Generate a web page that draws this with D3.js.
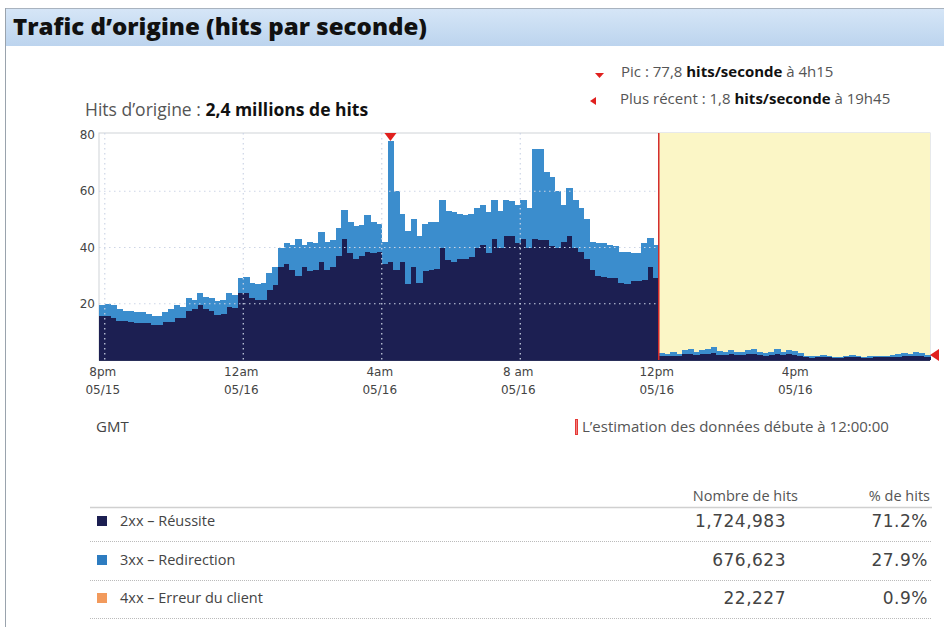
<!DOCTYPE html>
<html><head><meta charset="utf-8">
<script src="https://cdn.jsdelivr.net/npm/d3@7"></script>
<style>
html,body{margin:0;padding:0;background:#fff;}
svg{display:block;}
</style></head>
<body>
<svg id="c" width="944" height="627"></svg>
<script>
// ---- data ----
const binStart = "2013-05-15T19:50:00Z";
const binMinutes = 10;
const s2xx = [15.5,15.5,15,14,14,13.5,13,13,13,12.5,12.5,13.5,13.5,15,15,17.5,18,19.5,18,17.5,16,16.5,19,18.5,24,
  24,22,21.5,21.5,25,26.5,33,34,32,30,33,31.5,32,35,32,33,37,43,38,36,37,38.5,38,38.5,
  34,35,32,35,27,33,27.5,31.5,32,32.5,40,35.5,35,36,36,36.5,40,41,38,43,40,44,44,41.5,43,
  40,43,42.5,42.5,40.5,40,42,44,40,38.5,36,32,30,29.5,29,29,27.5,27,28,28,28.5,33,29,
  1.5,1.3,1.6,1.3,2.0,2.2,1.8,2.0,2.3,2.5,1.9,1.8,2.1,1.7,1.8,2.0,2.2,1.8,1.5,1.8,2.3,1.8,2.0,1.9,1.5,
  0.9,0.8,0.9,1.1,0.9,0.7,0.7,0.9,1.1,0.9,0.7,0.8,0.9,1.0,0.9,1.1,1.2,1.5,1.3,1.6,1.5,1.1];
const s3xx = [4,4.5,4.5,4,3.5,4,4,4,3.5,3,3,3.5,4.5,4.5,4,4.5,3.5,4.5,4.5,4.5,5,5,5,4.5,5,
  5.5,5.5,5.5,6,6,6.5,7,7.5,9,13,8,10.5,9.5,10.5,10,9.5,10,10.5,11,11.5,11,13,11,10,
  8,42.8,28,17,19,17,16.5,17,17,16.5,17,17.5,17.5,16,15.5,15.5,14,14,14.5,14,13,13,12.5,13.5,14,
  14,32,32.5,24.5,24.5,20,13,17,17,15.5,14,10,11.5,12,12,11.5,11,11.5,10,10,13,10.5,12,
  1.0,0.9,1.2,0.9,1.5,1.6,1.2,1.5,1.7,2.0,1.3,1.2,1.4,1.1,1.2,1.5,1.6,1.2,1.0,1.2,1.7,1.2,1.5,1.3,1.0,
  0.6,0.5,0.6,0.7,0.6,0.5,0.5,0.6,0.7,0.6,0.5,0.6,0.6,0.6,0.6,0.7,0.8,1.0,0.9,1.2,1.0,0.7];
const yTicks = [20,40,60,80];
const xTickTimes = ["2013-05-15T20:00:00Z","2013-05-16T00:00:00Z","2013-05-16T04:00:00Z","2013-05-16T08:00:00Z","2013-05-16T12:00:00Z","2013-05-16T16:00:00Z"];
const xTickHours = ["8pm","12am","4am","8 am","12pm","4pm"];
const xTickDates = ["05/15","05/16","05/16","05/16","05/16","05/16"];
const estimateStart = "2013-05-16T12:00:00Z";
const peakTime = "2013-05-16T04:15:00Z", peakValue = 77.8;
const latestValue = 1.8;
const legendNames = ["2xx – Réussite","3xx – Redirection","4xx – Erreur du client"];
const legendHits = ["1,724,983","676,623","22,227"];
const legendPct = ["71.2%","27.9%","0.9%"];
const legendColors = ["#1c1f52","#2d7cc0","#f29a5c"];
const seriesColors = {s2xx:"#1c1f52", s3xx:"#3b8dcd"};

// ---- drawing ----
const svg = d3.select("#c");
const defs = svg.append("defs");
const g1 = defs.append("linearGradient").attr("id","hdr").attr("x1",0).attr("y1",0).attr("x2",0).attr("y2",1);
g1.append("stop").attr("offset","0%").attr("stop-color","#d6e6f7");
g1.append("stop").attr("offset","100%").attr("stop-color","#bcd4ee");

// frame & header
svg.append("rect").attr("x",5).attr("y",8).attr("width",939).attr("height",38).attr("fill","url(#hdr)");
svg.append("line").attr("x1",5).attr("x2",944).attr("y1",8.5).attr("y2",8.5).attr("stroke","#a9b3bf");
svg.append("line").attr("x1",5.5).attr("x2",5.5).attr("y1",8).attr("y2",627).attr("stroke","#9aa3ad");
svg.append("text").attr("x",13).attr("y",35).attr("font-family","Open Sans").attr("font-weight",800)
  .attr("font-size",22).attr("fill","#111").attr("textLength",414).attr("lengthAdjust","spacingAndGlyphs")
  .text("Trafic d’origine (hits par seconde)");

const L=99, R=930, T=133, B=360;
const x = d3.scaleTime().domain([new Date("2013-05-15T19:50:00Z"), new Date("2013-05-16T19:50:00Z")]).range([L,R]);
const y = d3.scaleLinear().domain([0,80]).range([B,135]);

const t0 = new Date(binStart).getTime();
const data = s2xx.map((v,i)=>({t:new Date(t0+i*binMinutes*60000), s2xx:v, s3xx:s3xx[i]}));
const stack = d3.stack().keys(["s2xx","s3xx"])(data);

// plot bg
svg.append("rect").attr("x",L).attr("y",T).attr("width",R-L).attr("height",B-T).attr("fill","#fff").attr("stroke","#cfd3d8");
svg.append("rect").attr("x",x(new Date(estimateStart))).attr("y",T).attr("width",R-x(new Date(estimateStart))).attr("height",B-T).attr("fill","#fbf6c6");

const bars = svg.append("g").attr("shape-rendering","crispEdges");
stack.forEach(layer=>{
  bars.append("g").attr("fill",seriesColors[layer.key]).selectAll("rect").data(layer).join("rect")
    .attr("x",d=>x(d.data.t))
    .attr("width",d=>x(new Date(d.data.t.getTime()+binMinutes*60000))-x(d.data.t)+0.6)
    .attr("y",d=>y(d[1])).attr("height",d=>y(d[0])-y(d[1]));
});

// gridlines
const grid = svg.append("g").attr("stroke","#cdd5e6").attr("stroke-width",1.2).attr("stroke-dasharray","1.5,3.5");
grid.selectAll("line.h").data([20,40,60]).join("line").attr("x1",L).attr("x2",x(new Date(estimateStart)))
  .attr("y1",d=>y(d)).attr("y2",d=>y(d));
grid.selectAll("line.v").data(xTickTimes.slice(0,4)).join("line").attr("x1",d=>x(new Date(d))).attr("x2",d=>x(new Date(d)))
  .attr("y1",T).attr("y2",B);

// estimate line
svg.append("line").attr("x1",x(new Date(estimateStart))).attr("x2",x(new Date(estimateStart))).attr("y1",T).attr("y2",B)
  .attr("stroke","#d42a2a").attr("stroke-width",1.5);
svg.append("line").attr("x1",L).attr("x2",R).attr("y1",B+0.5).attr("y2",B+0.5).attr("stroke","#2a2f5a");

// y labels
svg.append("g").selectAll("text").data(yTicks).join("text").attr("x",95).attr("y",d=>y(d)+4)
  .attr("text-anchor","end").attr("font-family","DejaVu Sans").attr("font-size",12).attr("fill","#444").text(d=>d);
// x labels
const xl = svg.append("g").attr("font-family","DejaVu Sans").attr("font-size",12).attr("fill","#444").attr("text-anchor","middle");
xTickTimes.forEach((t,i)=>{
  xl.append("text").attr("x",x(new Date(t))-2).attr("y",376).text(xTickHours[i]);
  xl.append("text").attr("x",x(new Date(t))-2).attr("y",394).text(xTickDates[i]);
});

// markers
const px = x(new Date(peakTime));
svg.append("path").attr("d",`M${px-6},${T}L${px+6},${T}L${px},${T+8}Z`).attr("fill","#e0201e");
const ly = y(latestValue);
svg.append("path").attr("d",`M${R},${ly}L${R+9},${ly-6}L${R+9},${ly+6}Z`).attr("fill","#e0201e");

// annotations
function rich(xp, yp, parts, size){
  const t = svg.append("text").attr("x",xp).attr("y",yp).attr("font-family","Open Sans").attr("font-size",size);
  parts.forEach(p=>t.append("tspan").attr("font-weight",p[1]?700:400).attr("fill",p[1]?"#111":"#555").text(p[0]));
}
svg.append("path").attr("d","M595,73L604,73L599.5,78Z").attr("fill","#e0201e");
rich(621,77,[["Pic : 77,8 ",0],["hits/seconde",1],[" à 4h15",0]],15);
svg.append("path").attr("d","M590,101L596,97L596,105Z").attr("fill","#e0201e");
rich(620,104,[["Plus récent : 1,8 ",0],["hits/seconde",1],[" à 19h45",0]],15);
rich(85,116,[["Hits d’origine : ",0],["2,4 millions de hits",1]],17.5);

svg.append("text").attr("x",96).attr("y",432).attr("font-family","Open Sans").attr("font-size",15).attr("fill","#444").text("GMT");
svg.append("rect").attr("x",575.5).attr("y",419.5).attr("width",2).attr("height",15).attr("fill","#f08080").attr("stroke","#e53935");
svg.append("text").attr("x",582).attr("y",432).attr("font-family","Open Sans").attr("font-size",15).attr("fill","#555")
  .text("L’estimation des données débute à 12:00:00");

// table
const tb = svg.append("g");
tb.append("text").attr("x",798).attr("y",501).attr("text-anchor","end").attr("font-family","Open Sans").attr("font-size",14.5).attr("fill","#555").text("Nombre de hits");
tb.append("text").attr("x",930).attr("y",501).attr("text-anchor","end").attr("font-family","Open Sans").attr("font-size",14.5).attr("fill","#555").text("% de hits");
tb.append("line").attr("x1",90).attr("x2",932).attr("y1",507.5).attr("y2",507.5).attr("stroke","#d0d0d0").attr("stroke-width",1.5);
const rowY = [521,560,598];
legendNames.forEach((n,i)=>{
  const cy = rowY[i];
  tb.append("rect").attr("x",97).attr("y",cy-5).attr("width",10).attr("height",10).attr("fill",legendColors[i]);
  tb.append("text").attr("x",120).attr("y",cy+5).attr("font-family","Open Sans").attr("font-size",14.5).attr("fill","#444").text(n);
  tb.append("text").attr("x",786).attr("y",cy+6).attr("text-anchor","end").attr("font-family","DejaVu Sans").attr("font-size",17).attr("letter-spacing",0.5).attr("fill","#444").text(legendHits[i]);
  tb.append("text").attr("x",928).attr("y",cy+6).attr("text-anchor","end").attr("font-family","DejaVu Sans").attr("font-size",17).attr("letter-spacing",0.5).attr("fill","#444").text(legendPct[i]);
  tb.append("line").attr("x1",90).attr("x2",932).attr("y1",cy+20.5).attr("y2",cy+20.5).attr("stroke","#bbb").attr("stroke-dasharray","1,1");
});
</script>
</body></html>
